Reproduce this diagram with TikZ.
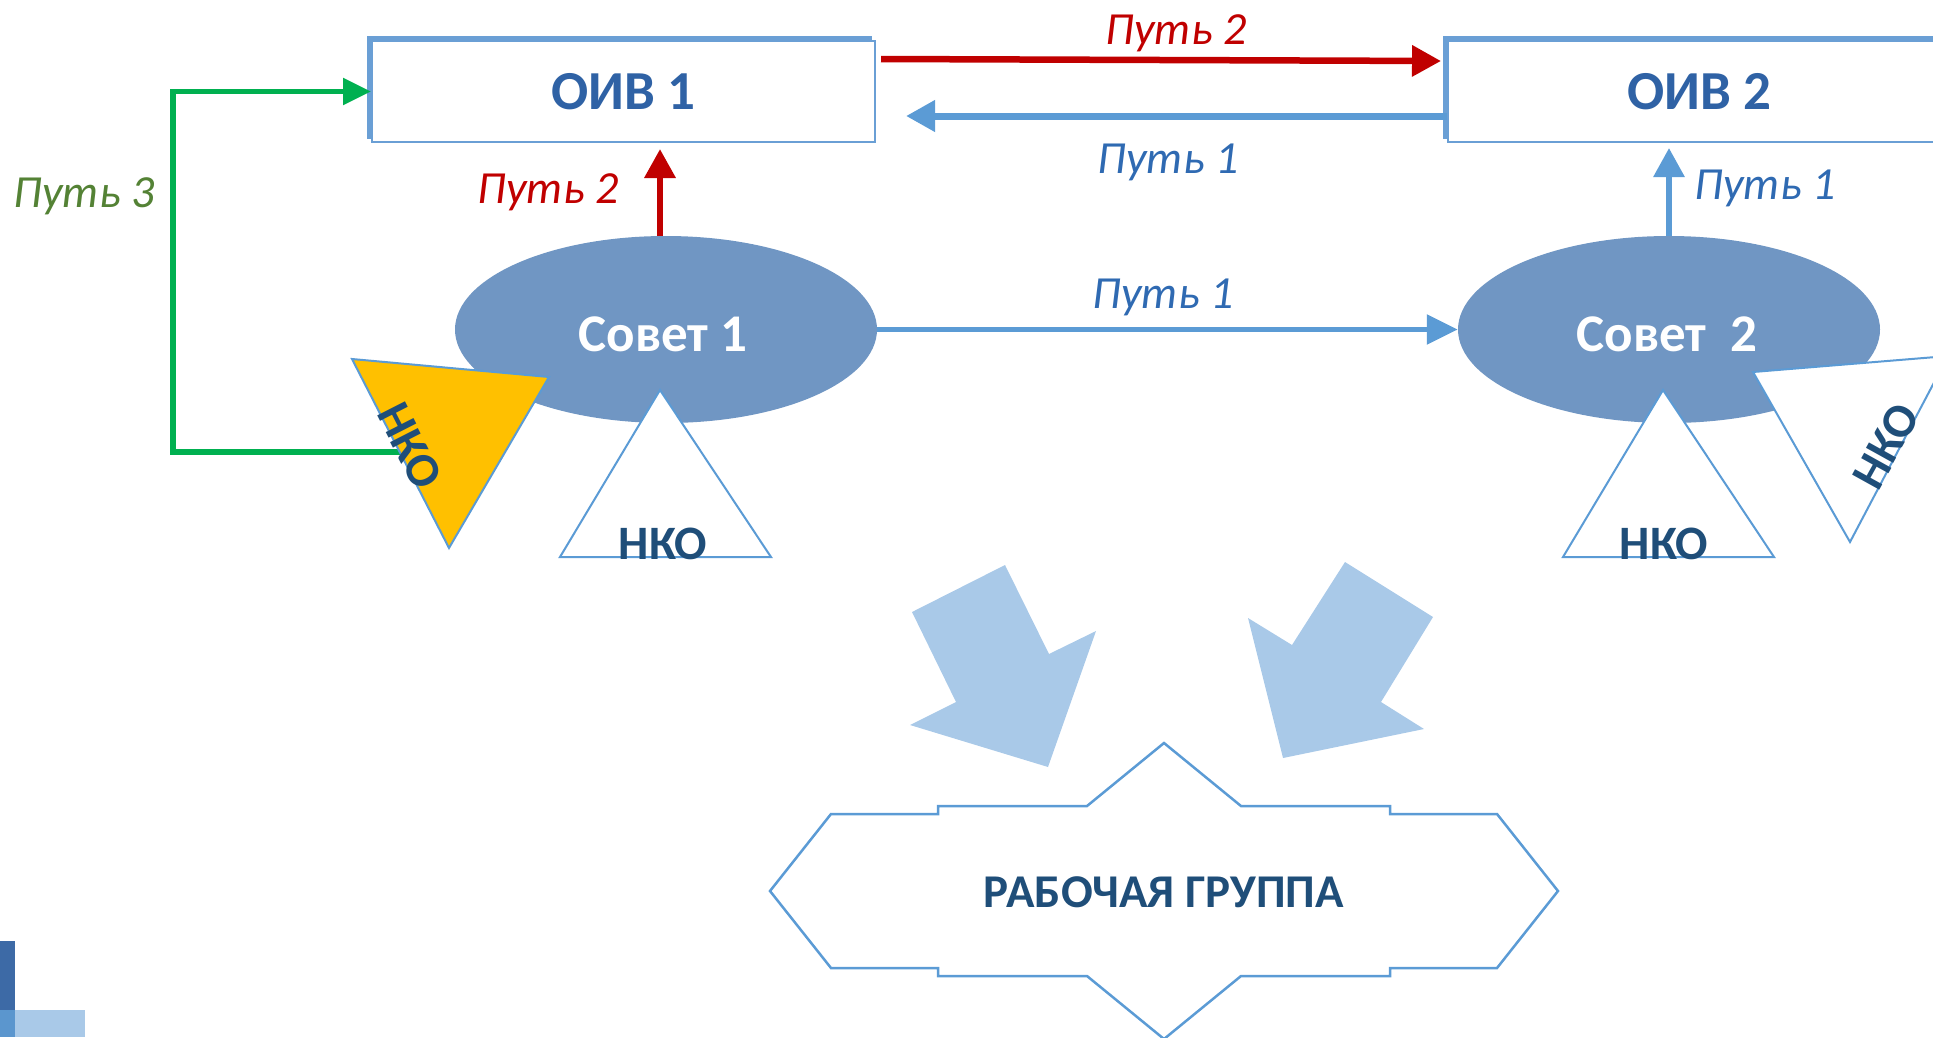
\documentclass[tikz,border=0pt]{standalone}
\usepackage{fontspec}
\setmainfont{Carlito}
\usetikzlibrary{arrows.meta,shapes.geometric}
\definecolor{boxc}{HTML}{6A9FD5}
\definecolor{arrblue}{HTML}{5B9BD5}
\definecolor{oivtext}{HTML}{2F62A5}
\definecolor{puttext}{HTML}{2F6AB2}
\definecolor{dblue}{HTML}{1F4E79}
\definecolor{sovetc}{HTML}{7096C3}
\definecolor{pred}{HTML}{C00000}
\definecolor{pgreen}{HTML}{00B050}
\definecolor{polive}{HTML}{548235}
\definecolor{bigarr}{HTML}{A9C9E8}
\definecolor{nkoyel}{HTML}{FFC000}
\definecolor{decA}{HTML}{3D6AA6}
\definecolor{decB}{HTML}{5B96CE}
\begin{document}
\begin{tikzpicture}[x=1pt,y=-1pt,
  oivbox/.style={draw=boxc, line width=2pt, fill=white, minimum width=503pt, minimum height=101pt,
    inner sep=0pt, text=oivtext, font=\fontsize{55}{60}\selectfont\bfseries},
  sovet/.style={ellipse, fill=sovetc, minimum width=422pt, minimum height=187pt, inner sep=0pt},
  sovettext/.style={anchor=base, inner sep=0pt, text=white, font=\fontsize{53}{58}\selectfont\bfseries},
  nkotext/.style={inner sep=0pt, text=dblue, font=\fontsize{48}{54}\selectfont\bfseries},
  tri/.style={draw=arrblue, line width=2pt, line join=miter},
  lbl/.style={anchor=base, inner sep=0pt, font=\fontsize{46}{52}\selectfont\itshape},
  redarr/.style={draw=pred, line width=6.5pt, -{Triangle[length=29pt,width=30pt]}},
  bluearr/.style={draw=arrblue, line width=7pt, -{Triangle[length=29pt,width=30pt]}},
  greenarr/.style={draw=pgreen, line width=5.3pt, -{Triangle[length=28pt,width=26pt]}},
  bigarrow/.style={fill=bigarr},
]
\useasboundingbox (0,0) rectangle (1933,1037);

% boxes with offset band
\fill[boxc] (367,36) rectangle (872,139);
\fill[boxc] (1443,36) rectangle (1950,139);
\node[oivbox] (oiv1) at (623.5,91.5) {ОИВ 1};
\node[oivbox] (oiv2) at (1699.5,91.5) {ОИВ 2};

% green path 3
\coordinate (g0) at (402,452);
\draw[greenarr, line join=miter] (g0) -- ++(-229,0) |- (oiv1.west);
\node[lbl, text=polive] (p3) at (84,207) {Путь 3};

% Sovet 1 and its NKO
\node[sovet] (s1) at (666,329.5) {};
\node[sovettext] (s1t) at (663,351) {Совет 1};
\draw[tri, fill=nkoyel] (352,359) -- (549,377) -- (449,548) -- cycle;
\node[nkotext, rotate=-63] (nkoy) at (410,446) {НКО};
\draw[tri, fill=white] (660,390) -- (771,557) -- (560,557) -- cycle;
\node[nkotext, anchor=base] (nko1) at (663,559) {НКО};

% Sovet 2 and its NKO
\node[sovet] (s2) at (1669,329.5) {};
\node[sovettext] (s2t) at (1667,351) {Совет\ \ 2};
\draw[tri, fill=white] (1663,390) -- (1774,557) -- (1563,557) -- cycle;
\node[nkotext, anchor=base] (nko2) at (1664,559) {НКО};
\draw[tri, fill=white] (1753,372) -- (1948,356) -- (1850,542) -- cycle;
\node[nkotext, rotate=61] (nkor) at (1886,446) {НКО};

% arrows between boxes
\draw[redarr] ([xshift=5pt,yshift=-19pt]oiv1.north east) -- ([xshift=-6pt,yshift=-21pt]oiv2.north west);
\node[lbl, text=pred] (p2a) at (1176,44) {Путь 2};
\draw[bluearr] ([yshift=-24.5pt]oiv2.west) -- ([xshift=30pt,yshift=-24.5pt]oiv1.east);
\node[lbl, text=puttext] (p1a) at (1168,173) {Путь 1};

% vertical arrows
\draw[redarr, shorten >=6pt] ([xshift=-6pt]s1.north) -- ([xshift=-6pt]s1.north |- oiv1.south);
\node[lbl, text=pred] (p2b) at (548,203) {Путь 2};
\draw[bluearr, line width=6pt, shorten >=5pt] (s2.north) -- (s2.north |- oiv2.south);
\node[lbl, text=puttext] (p1c) at (1765,199) {Путь 1};

% horizontal arrow between councils
\draw[bluearr, line width=5.5pt, -{Triangle[length=31pt,width=29pt]}] (s1.east) -- (s2.west);
\node[lbl, text=puttext] (p1b) at (1163,308) {Путь 1};

% big arrows
\fill[bigarrow] (912,612) -- (1005,565) -- (1049,654) -- (1096,631) -- (1048,767) -- (910,725) -- (956,702) -- cycle;
\fill[bigarrow] (1345,562) -- (1433,617) -- (1381,702) -- (1424,729) -- (1283,758) -- (1248,618) -- (1292,645) -- cycle;

% working group plaque
\draw[draw=arrblue, line width=2.5pt, line join=miter]
  (770,891) -- (831,814) -- (938,814) -- (938,806) -- (1087,806) -- (1164,743)
  -- (1241,806) -- (1390,806) -- (1390,814) -- (1497,814) -- (1558,891)
  -- (1497,968) -- (1390,968) -- (1390,976) -- (1241,976) -- (1164,1039)
  -- (1087,976) -- (938,976) -- (938,968) -- (831,968) -- cycle;
\node[nkotext, anchor=base, font=\fontsize{47}{52}\selectfont\bfseries] (wg) at (1164,907) {РАБОЧАЯ ГРУППА};

% corner decoration
\fill[decA] (0,941) rectangle (15,1010);
\fill[decB] (0,1010) rectangle (15,1037);
\fill[bigarr] (15,1010) rectangle (85,1037);
\end{tikzpicture}
\end{document}
